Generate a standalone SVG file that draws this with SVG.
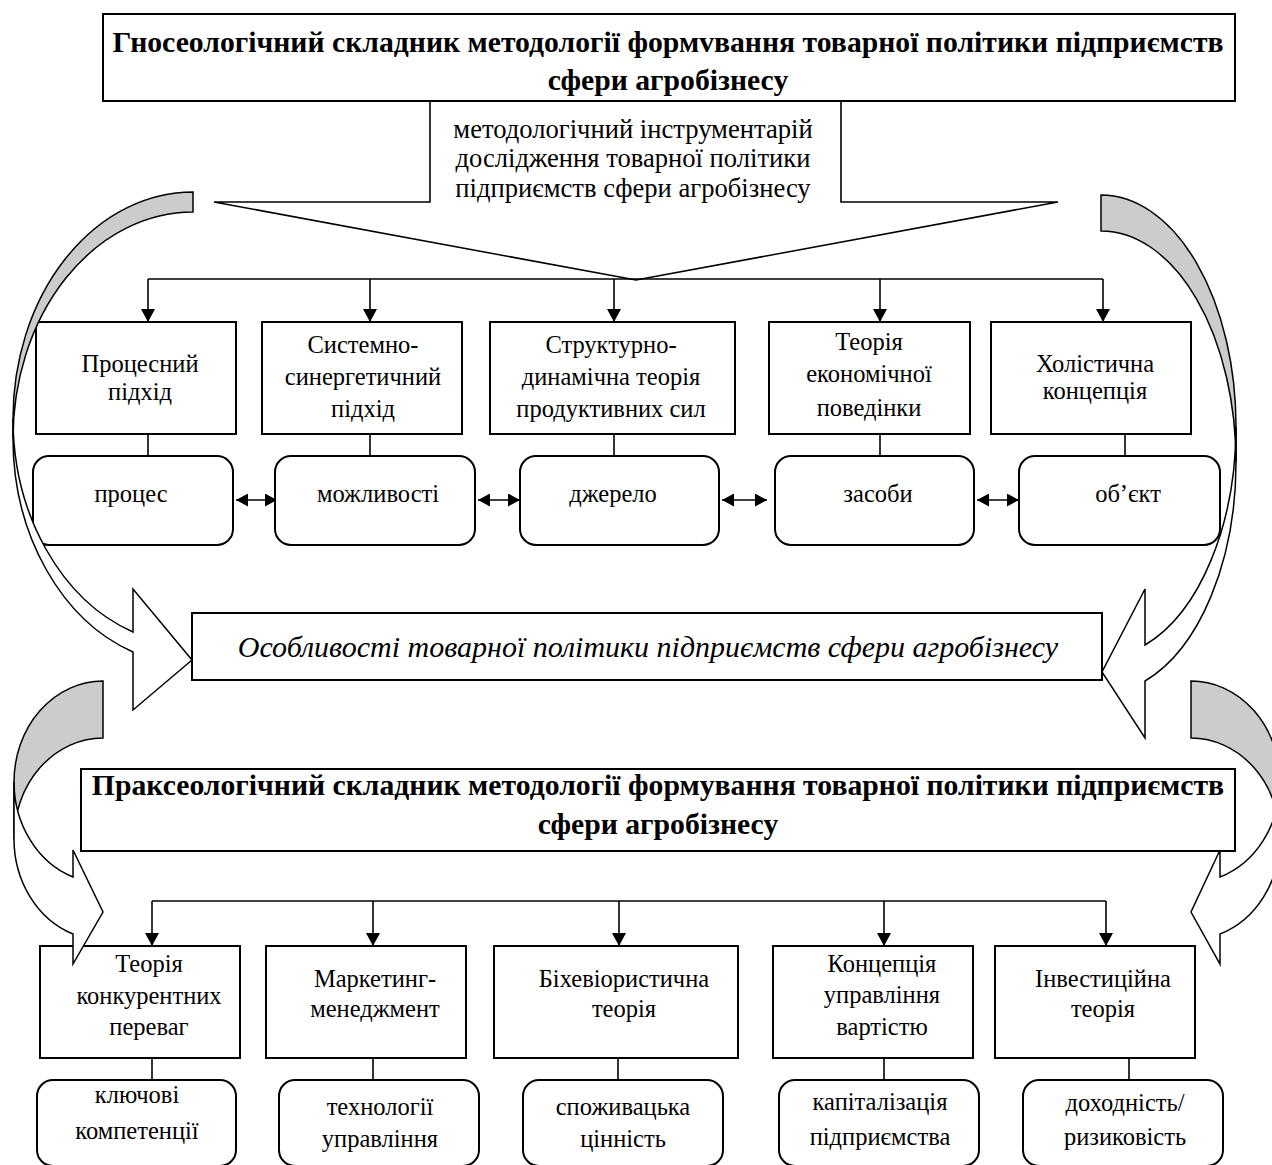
<svg xmlns="http://www.w3.org/2000/svg" width="1272" height="1165" viewBox="0 0 1272 1165">
<defs>
<style>
.box{fill:#fff;stroke:#000;stroke-width:2}
.ln{fill:none;stroke:#000;stroke-width:1.6}
.back{fill:#cccccc;stroke:#000;stroke-width:1.5;stroke-linejoin:miter}
.front{fill:#fff;stroke:#000;stroke-width:1.5;stroke-linejoin:miter}
text{font-family:"Liberation Serif","Times New Roman",serif;fill:#000;text-anchor:middle}
.t{font-size:24.5px}
.ti{font-size:29.7px;font-weight:bold}
.co{font-size:26.6px}
.it{font-size:30px;font-style:italic}
</style>
<marker id="ah" viewBox="0 0 13 14" refX="13" refY="7" markerWidth="13" markerHeight="14" markerUnits="userSpaceOnUse" orient="auto"><path d="M0,0 L13,7 L0,14 Z" fill="#000"/></marker>
<marker id="dh" viewBox="0 0 12 13" refX="12" refY="6.5" markerWidth="12" markerHeight="13" markerUnits="userSpaceOnUse" orient="auto-start-reverse"><path d="M0,0 L12,6.5 L0,13 Z" fill="#000"/></marker>
</defs>
<rect width="1272" height="1165" fill="#fff"/>

<g id="gnoseo">
<rect class="box" x="103" y="14" width="1132" height="87"/>
<text class="ti" x="668" y="52">Гносеологічний складник методології формvвання товарної політики підприємств</text>
<text class="ti" x="668" y="90">сфери агробізнесу</text>
</g>

<g id="callout">
<polyline class="ln" points="430,101 430,202 214,202 636,280 1058,202 841,202 841,101"/>
<text class="co" x="633" y="138">методологічний інструментарій</text>
<text class="co" x="633" y="167">дослідження товарної політики</text>
<text class="co" x="633" y="197">підприємств сфери агробізнесу</text>
</g>

<g id="connectors">
<polyline class="ln" points="148,279 1103,279"/>
<line class="ln" x1="148" y1="279" x2="148" y2="322" marker-end="url(#ah)"/>
<line class="ln" x1="370" y1="279" x2="370" y2="322" marker-end="url(#ah)"/>
<line class="ln" x1="614" y1="279" x2="614" y2="322" marker-end="url(#ah)"/>
<line class="ln" x1="880" y1="279" x2="880" y2="322" marker-end="url(#ah)"/>
<line class="ln" x1="1103" y1="279" x2="1103" y2="322" marker-end="url(#ah)"/>
<line class="ln" x1="148" y1="434" x2="148" y2="456"/>
<line class="ln" x1="370" y1="434" x2="370" y2="456"/>
<line class="ln" x1="614" y1="434" x2="614" y2="456"/>
<line class="ln" x1="880" y1="434" x2="880" y2="456"/>
<line class="ln" x1="1125" y1="434" x2="1125" y2="456"/>
<line class="ln" x1="236" y1="500" x2="277" y2="500" marker-start="url(#dh)" marker-end="url(#dh)"/>
<line class="ln" x1="478" y1="500" x2="520" y2="500" marker-start="url(#dh)" marker-end="url(#dh)"/>
<line class="ln" x1="722" y1="500" x2="767" y2="500" marker-start="url(#dh)" marker-end="url(#dh)"/>
<line class="ln" x1="977" y1="500" x2="1019" y2="500" marker-start="url(#dh)" marker-end="url(#dh)"/>
<polyline class="ln" points="152,901 1106,901"/>
<line class="ln" x1="152" y1="901" x2="152" y2="946" marker-end="url(#ah)"/>
<line class="ln" x1="373" y1="901" x2="373" y2="946" marker-end="url(#ah)"/>
<line class="ln" x1="619" y1="901" x2="619" y2="946" marker-end="url(#ah)"/>
<line class="ln" x1="884" y1="901" x2="884" y2="946" marker-end="url(#ah)"/>
<line class="ln" x1="1106" y1="901" x2="1106" y2="946" marker-end="url(#ah)"/>
<line class="ln" x1="152" y1="1058" x2="152" y2="1080"/>
<line class="ln" x1="373" y1="1058" x2="373" y2="1080"/>
<line class="ln" x1="618" y1="1058" x2="618" y2="1080"/>
<line class="ln" x1="884" y1="1058" x2="884" y2="1080"/>
<line class="ln" x1="1129" y1="1058" x2="1129" y2="1080"/>
</g>

<g id="process">
<rect class="box" x="36" y="322" width="200" height="112"/>
<text class="t" x="140" y="372">Процесний</text>
<text class="t" x="140" y="400">підхід</text>
</g>
<g id="system">
<rect class="box" x="262" y="322" width="200" height="112"/>
<text class="t" x="363" y="353">Системно-</text>
<text class="t" x="363" y="385">синергетичний</text>
<text class="t" x="363" y="417">підхід</text>
</g>
<g id="structural">
<rect class="box" x="490" y="322" width="245" height="112"/>
<text class="t" x="611" y="353">Структурно-</text>
<text class="t" x="611" y="385">динамічна теорія</text>
<text class="t" x="611" y="417">продуктивних сил</text>
</g>
<g id="behavior">
<rect class="box" x="769" y="322" width="201" height="112"/>
<text class="t" x="869" y="350">Теорія</text>
<text class="t" x="869" y="382">економічної</text>
<text class="t" x="869" y="416">поведінки</text>
</g>
<g id="holistic">
<rect class="box" x="991" y="322" width="200" height="112"/>
<text class="t" x="1095" y="372">Холістична</text>
<text class="t" x="1095" y="399">концепція</text>
</g>

<g id="r-process"><rect class="box" x="33" y="456" width="200" height="89" rx="16"/><text class="t" x="131" y="502">процес</text></g>
<g id="r-possib"><rect class="box" x="275" y="456" width="200" height="89" rx="16"/><text class="t" x="378" y="502">можливості</text></g>
<g id="r-source"><rect class="box" x="520" y="456" width="199" height="89" rx="16"/><text class="t" x="613" y="502">джерело</text></g>
<g id="r-means"><rect class="box" x="775" y="456" width="199" height="89" rx="16"/><text class="t" x="878" y="502">засоби</text></g>
<g id="r-object"><rect class="box" x="1019" y="456" width="201" height="89" rx="16"/><text class="t" x="1128" y="502">об’єкт</text></g>

<g id="features">
<rect class="box" x="192" y="613" width="910" height="67"/>
<text class="it" x="648" y="657">Особливості товарної політики підприємств сфери агробізнесу</text>
</g>

<g id="praxeo">
<rect class="box" x="81" y="769" width="1154" height="82"/>
<text class="ti" x="658" y="795">Праксеологічний складник методології формування товарної політики підприємств</text>
<text class="ti" x="658" y="834">сфери агробізнесу</text>
</g>

<g id="competitive">
<rect class="box" x="40" y="946" width="200" height="112"/>
<text class="t" x="149" y="972">Теорія</text>
<text class="t" x="149" y="1004">конкурентних</text>
<text class="t" x="149" y="1035">переваг</text>
</g>
<g id="marketing">
<rect class="box" x="266" y="946" width="200" height="112"/>
<text class="t" x="375" y="987">Маркетинг-</text>
<text class="t" x="375" y="1017">менеджмент</text>
</g>
<g id="behaviorist">
<rect class="box" x="494" y="946" width="244" height="112"/>
<text class="t" x="624" y="987">Біхевіористична</text>
<text class="t" x="624" y="1017">теорія</text>
</g>
<g id="value">
<rect class="box" x="773" y="946" width="200" height="112"/>
<text class="t" x="882" y="972">Концепція</text>
<text class="t" x="882" y="1003">управління</text>
<text class="t" x="882" y="1035">вартістю</text>
</g>
<g id="invest">
<rect class="box" x="995" y="946" width="200" height="112"/>
<text class="t" x="1103" y="987">Інвестиційна</text>
<text class="t" x="1103" y="1017">теорія</text>
</g>

<g id="r-compet"><rect class="box" x="37" y="1080" width="199" height="86" rx="16"/><text class="t" x="137" y="1103">ключові</text><text class="t" x="137" y="1139">компетенції</text></g>
<g id="r-tech"><rect class="box" x="279" y="1080" width="200" height="86" rx="16"/><text class="t" x="380" y="1115">технології</text><text class="t" x="380" y="1147">управління</text></g>
<g id="r-consumer"><rect class="box" x="523" y="1080" width="200" height="86" rx="16"/><text class="t" x="623" y="1115">споживацька</text><text class="t" x="623" y="1147">цінність</text></g>
<g id="r-capital"><rect class="box" x="779" y="1080" width="200" height="86" rx="16"/><text class="t" x="880" y="1110">капіталізація</text><text class="t" x="880" y="1145">підприємства</text></g>
<g id="r-return"><rect class="box" x="1023" y="1080" width="200" height="86" rx="16"/><text class="t" x="1125" y="1111">доходність/</text><text class="t" x="1125" y="1145">ризиковість</text></g>

<g id="curved-arrows">
<path class="back" d="M193,192 A180,226.5 0 0 0 13,418.5 L13,438.5 A180,226.5 0 0 1 193,212 Z"/>
<path class="front" d="M13,418.5 A180,226.5 0 0 0 133,632 L133,589 L192,660 L133,710 L133,652 A180,226.5 0 0 1 13,438.5 Z"/>
<path class="back" d="M1101,195 A135,231.4 0 0 1 1236,426.4 L1236,462.4 A135,231.4 0 0 0 1101,231 Z"/>
<path class="front" d="M1236,426.4 A135,231.4 0 0 1 1145,645 L1145,589 L1102,672 L1145,738 L1145,681 A135,231.4 0 0 0 1236,462.4 Z"/>
<path class="back" d="M103,681 A89,101 0 0 0 14,782 L14,839 A89,101 0 0 1 103,738 Z"/>
<path class="front" d="M14,782 A89,101 0 0 0 73,877 L73,850 L103,912 L73,964 L73,934 A89,101 0 0 1 14,839 Z"/>
<path class="back" d="M1191,681 A89,101 0 0 1 1280,782 L1280,839 A89,101 0 0 0 1191,738 Z"/>
<path class="front" d="M1280,782 A89,101 0 0 1 1220,877 L1220,850 L1191,912 L1220,964 L1220,934 A89,101 0 0 0 1280,839 Z"/>
</g>
</svg>
